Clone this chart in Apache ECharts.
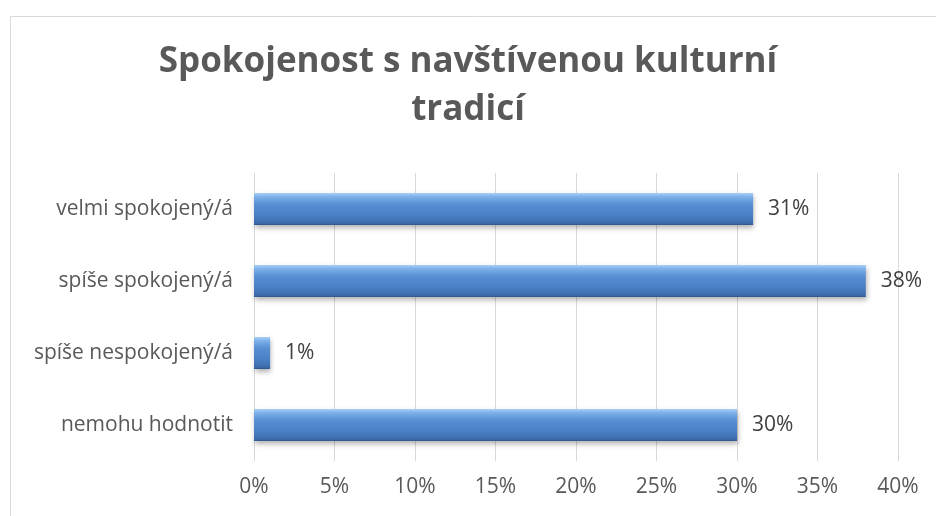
<!DOCTYPE html>
<html><head><meta charset="utf-8">
<script src="https://cdn.jsdelivr.net/npm/echarts@6/dist/echarts.min.js"></script>
<style>html,body{margin:0;padding:0;background:#fff}#c{width:936px;height:516px}</style>
</head><body><div id="c"></div>
<script>
const titleText = 'Spokojenost s navštívenou kulturní\ntradicí';
const categories = ['velmi spokojený/á', 'spíše spokojený/á', 'spíše nespokojený/á', 'nemohu hodnotit'];
const values = [31, 38, 1, 30];
const xTicks = [0, 5, 10, 15, 20, 25, 30, 35, 40];

const chart = echarts.init(document.getElementById('c'));
const FONT = 'Open Sans';
chart.setOption({
  animation: false,
  backgroundColor: '#fff',
  title: {
    text: titleText,
    left: 'center',
    top: 33,
    textStyle: { fontFamily: FONT, fontWeight: 'bold', fontSize: 35, color: '#595959', lineHeight: 48 }
  },
  graphic: [{
    type: 'rect', left: 8, top: 14,
    shape: { width: 940, height: 520 },
    style: { fill: 'none', stroke: '#d9d9d9', lineWidth: 1 }, silent: true
  }],
  grid: { left: 254, right: 38, top: 173, bottom: 55, containLabel: false },
  xAxis: {
    type: 'value', min: 0, max: 40, interval: 5,
    axisLine: { show: false }, axisTick: { show: false },
    splitLine: { lineStyle: { color: '#d9d9d9', width: 1 } },
    axisLabel: { formatter: v => xTicks.includes(v) ? v + '%' : '', color: '#595959', fontFamily: FONT, fontSize: 21, margin: 16 }
  },
  yAxis: {
    type: 'category', data: categories, inverse: true,
    axisLine: { show: true, lineStyle: { color: '#d9d9d9' } }, axisTick: { show: false },
    axisLabel: { color: '#595959', fontFamily: FONT, fontSize: 21, margin: 21 }
  },
  series: [{
    type: 'bar', data: values, barWidth: 32,
    itemStyle: {
      color: new echarts.graphic.LinearGradient(0, 0, 0, 1, [
        { offset: 0, color: '#a9cff6' },
        { offset: 0.12, color: '#7cb0e8' },
        { offset: 0.35, color: '#5890d4' },
        { offset: 0.7, color: '#4a7fc4' },
        { offset: 0.92, color: '#3e6eae' },
        { offset: 1, color: '#2f568f' }
      ]),
      shadowColor: 'rgba(0,0,0,0.3)', shadowBlur: 5, shadowOffsetY: 3, shadowOffsetX: 1
    },
    label: { show: true, position: 'right', distance: 15, formatter: p => p.value + '%', color: '#404040', fontFamily: FONT, fontSize: 21 }
  }]
});
</script></body></html>
